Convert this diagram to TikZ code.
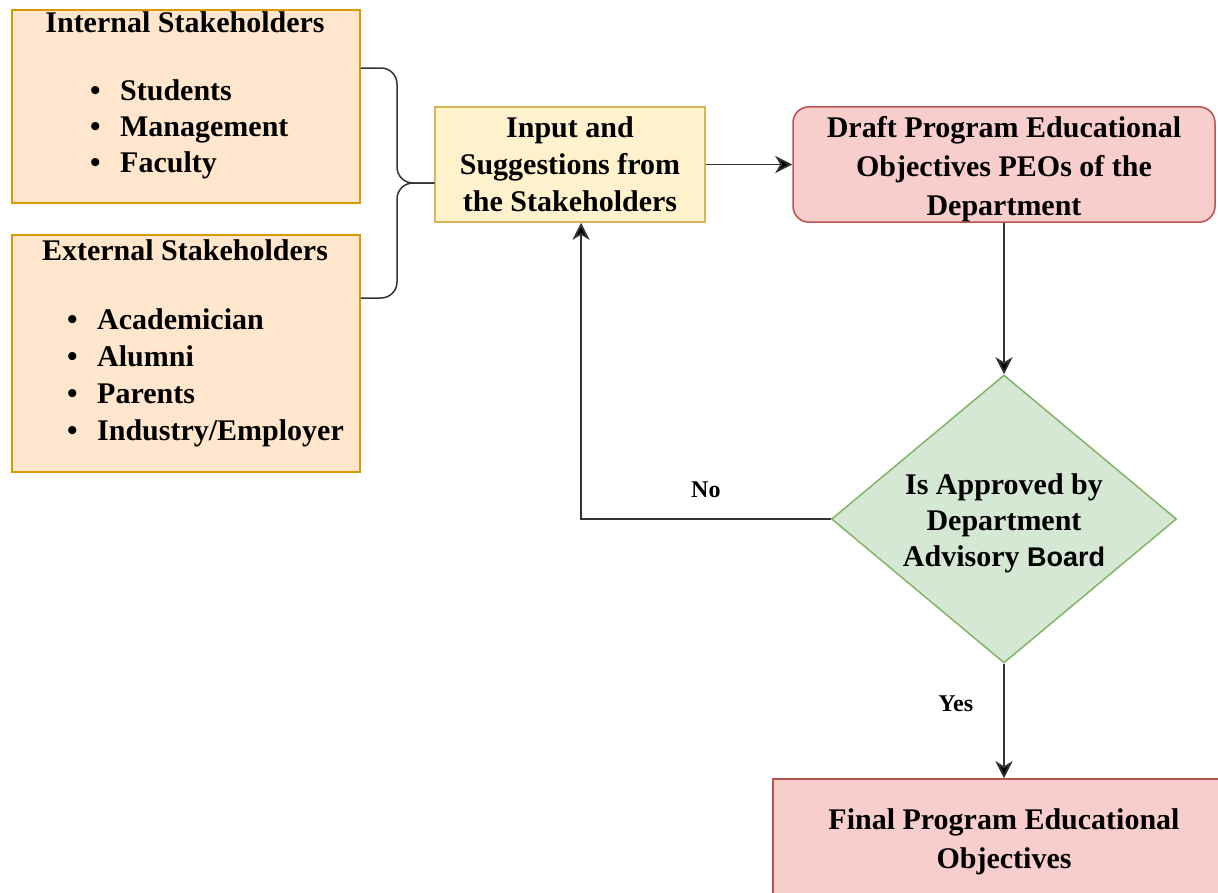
\documentclass[tikz,border=0pt]{standalone}
\usepackage{fontspec}
\setmainfont{Liberation Serif}
\newfontfamily\boardfont{Liberation Sans}
\usepackage{tikz}
\usetikzlibrary{shapes.geometric,arrows.meta}
\definecolor{stakefill}{HTML}{FFE6CC}
\definecolor{stakeline}{HTML}{D79B00}
\definecolor{inputfill}{HTML}{FFF2CC}
\definecolor{inputline}{HTML}{D6B656}
\definecolor{peofill}{HTML}{F8CECC}
\definecolor{peoline}{HTML}{B85450}
\definecolor{dabfill}{HTML}{D5E8D4}
\definecolor{dabline}{HTML}{82B366}
\newcommand{\itembul}{\makebox[30pt][l]{\textbullet}}
\pgfkeys{tikz/stakebox/.style={draw=stakeline, fill=stakefill, line width=1.5pt,
                                  minimum width=348pt, inner sep=0pt}}
\pgfkeys{tikz/listtext/.style={font=\fontsize{30}{36}\selectfont\bfseries, inner sep=0pt}}
\pgfkeys{tikz/flowbox/.style={line width=1.5pt, align=center, inner sep=0pt,
                                  font=\fontsize{30}{39}\selectfont\bfseries}}
\pgfkeys{tikz/flowarrow/.style={draw=black!80, line width=1.8pt,
                                  -{Stealth[length=17pt,width=17pt,inset=5pt,fill=black]}}}
\pgfkeys{tikz/edgelabel/.style={font=\fontsize{24}{28}\selectfont\bfseries, inner sep=0pt}}

\begin{document}
\begin{tikzpicture}[x=1pt,y=-1pt]
    \useasboundingbox (0,0) rectangle (1218,892);
    \clip (0,0) rectangle (1218,892);
    % stakeholder groups
    \node [stakebox, minimum height=193pt] (intbox) at (186,106.5) {};
    \node [stakebox, minimum height=237pt] (extbox) at (186,353.5) {};
    \node [listtext] (inttitle) at (185,22) {Internal Stakeholders};
    \node [listtext, anchor=west, align=left] (intlist) at (90,129)
        {\itembul Students\\ \itembul Management\\ \itembul Faculty};
    \node [listtext] (exttitle) at (185,250) {External Stakeholders};
    \node [listtext, anchor=west, align=left, font=\fontsize{30}{37}\selectfont\bfseries]
        (extlist) at (67,378)
        {\itembul Academician\\ \itembul Alumni\\ \itembul Parents\\ \itembul Industry/Employer};
    % flow
    \node [flowbox, draw=inputline, fill=inputfill, minimum width=270pt, minimum height=115pt,
           font=\fontsize{30}{37}\selectfont\bfseries] (input) at (570,164.5)
        {Input and\\Suggestions from\\the Stakeholders};
    \node [flowbox, draw=peoline, fill=peofill, rounded corners=16pt,
           minimum width=422pt, minimum height=115pt] (draft) at (1004,164.5)
        {\rule{0pt}{31pt}Draft Program Educational\\Objectives PEOs of the\\Department};
    \node [flowbox, diamond, aspect=1.2, draw=dabline, fill=dabfill,
           minimum width=345pt, minimum height=288pt,
           font=\fontsize{30}{36}\selectfont\bfseries] (dab) at (1004,519)
        {\rule{0pt}{29pt}Is Approved by\\Department\\Advisory {\boardfont\fontsize{27}{36}\selectfont Board}};
    \node [flowbox, draw=peoline, fill=peofill,
           minimum width=462pt, minimum height=126pt] (final) at (1004,842)
        {Final Program Educational\\Objectives};
    % brace
    \draw [black!80, line width=1.5pt, rounded corners=16pt]
        (intbox.east |- 0,68) -- (397,68) -- (397,183) -- (input.west |- 0,183);
    \draw [black!80, line width=1.5pt, rounded corners=16pt]
        (extbox.east |- 0,298) -- (397,298) -- (397,183) -- (input.west |- 0,183);
    % arrows
    \draw [flowarrow] (input) -- (draft);
    \draw [flowarrow] (draft) -- (dab);
    \draw [flowarrow] (dab) -- node [edgelabel, left=30pt, pos=0.35] {Yes} (final);
    \draw [flowarrow] (dab.west) -| node [edgelabel, above=20pt, pos=0.25] {No}
        ([xshift=11pt]input.south);
\end{tikzpicture}
\end{document}
